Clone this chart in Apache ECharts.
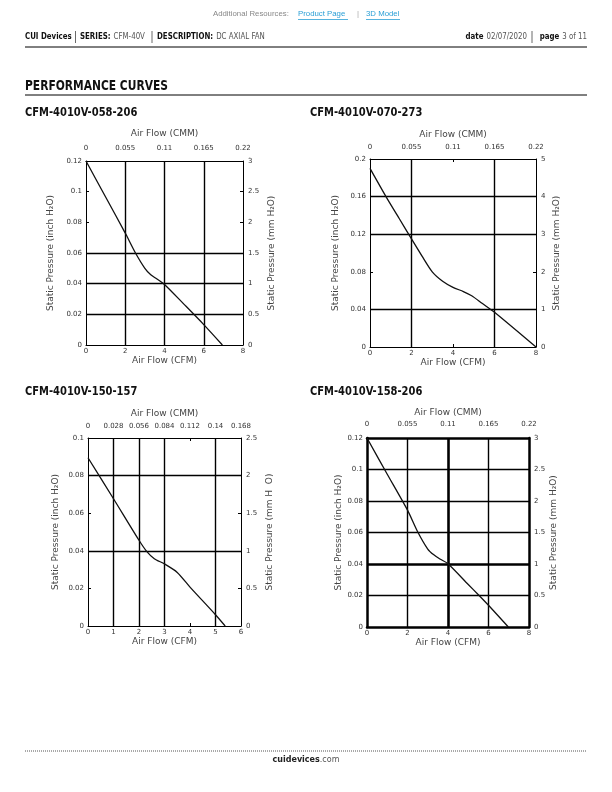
<!DOCTYPE html>
<html><head><meta charset="utf-8">
<script src="https://cdn.jsdelivr.net/npm/echarts/dist/echarts.min.js"></script>
<style>html,body{margin:0;padding:0;background:#fff}#c{width:612px;height:792px}</style>
</head><body><div id="c"></div>
<script>
// ---- data ----
const titles = ['CFM-4010V-058-206', 'CFM-4010V-070-273', 'CFM-4010V-150-157', 'CFM-4010V-158-206'];
const cfmMax = [8, 8, 6, 8];
const cfmInterval = [2, 2, 1, 2];
const cmmMax = [0.22, 0.22, 0.168, 0.22];
const cmmInterval = [0.055, 0.055, 0.028, 0.055];
const inchMax = [0.12, 0.2, 0.1, 0.12];
const inchInterval = [0.02, 0.04, 0.02, 0.02];
const mmMax = [3, 5, 2.5, 3];
const mmInterval = [0.5, 1, 0.5, 0.5];
const curve058 = [[0,0.12],[1,0.0965],[2,0.073],[2.5,0.0605],[3,0.0500],[3.3,0.0458],[3.6,0.0432],[4,0.0395],[5,0.0265],[6,0.0133],[6.95,0]];
const curve070 = [[0,0.19],[0.77,0.16],[1.4,0.137],[2,0.115],[2.5,0.097],[3,0.080],[3.5,0.070],[4,0.0635],[4.5,0.059],[4.9,0.0545],[5.4,0.0465],[6,0.037],[8,0]];
const curve150 = [[0,0.0895],[1,0.0677],[2,0.0456],[2.3,0.0397],[2.6,0.0358],[3,0.0330],[3.5,0.0285],[4,0.0207],[5,0.006],[5.38,0]];
const curve158 = [[0,0.12],[1,0.097],[2,0.0742],[2.5,0.0605],[3,0.0495],[3.3,0.0458],[3.6,0.0432],[4,0.0402],[5,0.027],[5.5,0.0205],[6,0.0138],[6.98,0]];
const curves = [curve058, curve070, curve150, curve158];
const gridLinesX = [[2,4,6],[2,6],[1,2,3,5],[2,4,6]];
const gridLinesY = [[0.02,0.04,0.06],[0.04,0.12,0.16],[0.04,0.08],[0.02,0.04,0.06,0.08,0.1]];

// ---- layout ----
const rects = [
  {l:86, t:161, w:157, h:184, lg:31, rg:24, tg:23, tm:9, bg:11},
  {l:370, t:159, w:166, h:188, lg:30, rg:16, tg:20, tm:8, bg:9},
  {l:88, t:438, w:153, h:188, lg:28, rg:24, tg:20, tm:8, bg:9},
  {l:367, t:438, w:162, h:189, lg:24, rg:20, tg:21, tm:10, bg:8}
];
const titlePos = [[25,113],[310,113],[25,392],[310,392]];
const borderW = [1,1,1,2.5];
const boldX = [null,null,null,4];
const boldY = [null,null,null,0.04];
const rightNames = ['Static Pressure (mm H₂O)','Static Pressure (mm H₂O)','Static Pressure (mm H  O)','Static Pressure (mm H₂O)'];

const LBL = {fontSize:7, color:'#333', fontFamily:'DejaVu Sans'};
const NAME = {fontSize:9, color:'#444', fontFamily:'DejaVu Sans'};

const grid=[], xAxis=[], yAxis=[], series=[];
rects.forEach((r,i)=>{
  grid.push({left:r.l, top:r.t, width:r.w, height:r.h, containLabel:false});
  const line = {show:true, onZero:false, lineStyle:{color:'#000', width:borderW[i]}};
  const tick = {show:true, inside:true, length:3, lineStyle:{color:'#000', width:1}};
  xAxis.push({type:'value', gridIndex:i, position:'bottom', min:0, max:cfmMax[i], interval:cfmInterval[i],
    name:'Air Flow (CFM)', nameLocation:'middle', nameGap:r.bg, nameTextStyle:NAME,
    axisLine:line, axisTick:tick, axisLabel:Object.assign({margin:3}, LBL), splitLine:{show:false}});
  xAxis.push({type:'value', gridIndex:i, position:'top', min:0, max:cmmMax[i], interval:cmmInterval[i],
    name:'Air Flow (CMM)', nameLocation:'middle', nameGap:r.tg, nameTextStyle:NAME,
    axisLine:line, axisTick:tick, axisLabel:Object.assign({margin:r.tm}, LBL), splitLine:{show:false}});
  yAxis.push({type:'value', gridIndex:i, position:'left', min:0, max:inchMax[i], interval:inchInterval[i],
    name:'Static Pressure (inch H₂O)', nameLocation:'middle', nameRotate:90, nameGap:r.lg, nameTextStyle:NAME,
    axisLine:line, axisTick:tick, axisLabel:Object.assign({margin:4}, LBL), splitLine:{show:false}});
  yAxis.push({type:'value', gridIndex:i, position:'right', min:0, max:mmMax[i], interval:mmInterval[i],
    name:rightNames[i], nameLocation:'middle', nameRotate:90, nameGap:r.rg, nameTextStyle:NAME,
    axisLine:line, axisTick:tick, axisLabel:Object.assign({margin:5}, LBL), splitLine:{show:false}});
  const ml = [];
  gridLinesX[i].forEach(v=>ml.push({xAxis:v, lineStyle:{width: v===boldX[i]?2.6:1.4}}));
  gridLinesY[i].forEach(v=>ml.push({yAxis:v, lineStyle:{width: v===boldY[i]?2.6:1.4}}));
  series.push({type:'line', xAxisIndex:2*i, yAxisIndex:2*i, data:curves[i], showSymbol:false, smooth:0.25,
    lineStyle:{color:'#111', width:1.3}, z:5,
    markLine:{silent:true, symbol:['none','none'], label:{show:false}, animation:false,
      lineStyle:{color:'#000', type:'solid', width:1.4}, data:ml}});
});

const COND = '"DejaVu Sans Condensed", "DejaVu Sans", sans-serif';
const LIB = '"Liberation Sans", Arial, sans-serif';
function txt(x, y, text, font, fill, opts) {
  opts = opts || {};
  return {type:'text', x:x, y:y, scaleX:opts.sx || 1, z:10,
    style:Object.assign({text:text, font:font, fill:fill, textAlign:opts.align||'left', textVerticalAlign:'middle'}, opts.style||{})};
}
const hdrRich = {b:{font:'bold 8.7px '+COND, fill:'#111'}, r:{font:'8.7px '+COND, fill:'#555'}};
const graphic = [
  txt(213, 14, 'Additional Resources:', '7.8px '+LIB, '#888'),
  txt(298, 14, 'Product Page', '7.8px '+LIB, '#2a9fd6'),
  {type:'line', shape:{x1:298, y1:19.5, x2:348, y2:19.5}, style:{stroke:'#2a9fd6', lineWidth:0.8}},
  txt(357, 14, '|', '7.8px '+LIB, '#aaa'),
  txt(366, 14, '3D Model', '7.8px '+LIB, '#2a9fd6'),
  {type:'line', shape:{x1:366, y1:19.5, x2:400, y2:19.5}, style:{stroke:'#2a9fd6', lineWidth:0.8}},
  // left header
  txt(25, 37, '{b|CUI Devices}', '', '#111', {sx:0.9, style:{rich:hdrRich}}),
  {type:'line', shape:{x1:75.5, y1:31, x2:75.5, y2:43}, style:{stroke:'#444', lineWidth:0.8}},
  txt(80, 37, '{b|SERIES:} {r|CFM-40V}', '', '#111', {sx:0.9, style:{rich:hdrRich}}),
  {type:'line', shape:{x1:152, y1:31, x2:152, y2:43}, style:{stroke:'#444', lineWidth:0.8}},
  txt(157, 37, '{b|DESCRIPTION:} {r|DC AXIAL FAN}', '', '#111', {sx:0.9, style:{rich:hdrRich}}),
  // right header
  txt(587, 37, '{b|page} {r|3 of 11}', '', '#111', {sx:0.9, align:'right', style:{rich:hdrRich}}),
  {type:'line', shape:{x1:532, y1:31, x2:532, y2:43}, style:{stroke:'#444', lineWidth:0.8}},
  txt(527, 37, '{b|date} {r|02/07/2020}', '', '#111', {sx:0.9, align:'right', style:{rich:hdrRich}}),
  {type:'line', shape:{x1:25, y1:47, x2:587, y2:47}, style:{stroke:'#000', lineWidth:1}},
  txt(25, 86, 'PERFORMANCE CURVES', 'bold 14px '+COND, '#111', {sx:0.85}),
  {type:'line', shape:{x1:25, y1:95, x2:587, y2:95}, style:{stroke:'#000', lineWidth:1}},
  {type:'line', shape:{x1:25, y1:751, x2:587, y2:751}, style:{stroke:'#555', lineWidth:1, lineDash:[1,1]}},
  txt(306, 760, '{b|cuidevices}{r|.com}', '', '#111', {align:'center', style:{rich:{b:{font:'bold 8px "DejaVu Sans"', fill:'#222'}, r:{font:'8px "DejaVu Sans"', fill:'#555'}}}})
];
titles.forEach((t,i)=>{
  graphic.push(txt(titlePos[i][0], titlePos[i][1], t, 'bold 11.5px '+COND, '#111', {sx:0.96}));
});

const chart = echarts.init(document.getElementById('c'), null, {renderer:'canvas'});
chart.setOption({animation:false, backgroundColor:'#fff', grid, xAxis, yAxis, series, graphic});
</script></body></html>
